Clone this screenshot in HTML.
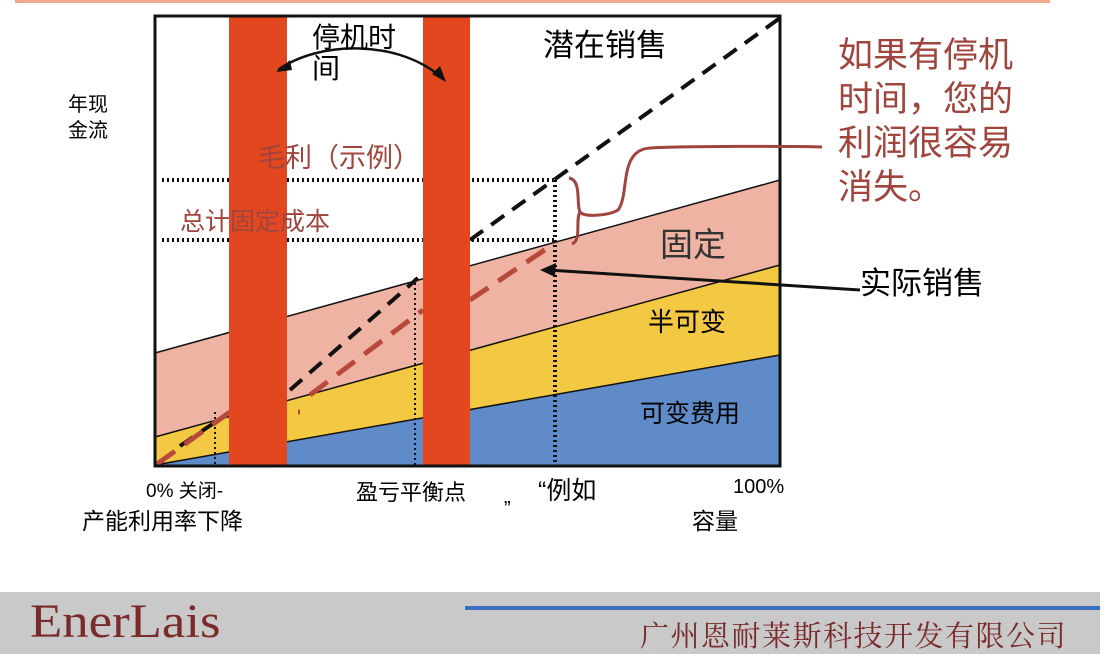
<!DOCTYPE html>
<html><head><meta charset="utf-8"><style>
body{margin:0;width:1107px;height:659px;background:#fff;overflow:hidden;position:relative;font-family:"Liberation Sans","Noto Sans CJK SC",sans-serif}
.t{position:absolute;white-space:nowrap}
</style></head><body>
<svg width="1107" height="659" style="position:absolute;left:0;top:0">
<rect x="15" y="0" width="1035" height="3" fill="#f0a890"/>
<rect x="155" y="16" width="625" height="450" fill="#fff"/>
<polygon points="155,353 780,180 780,265 155,437" fill="#efb3a3"/>
<polygon points="155,437 780,265 780,355 155,465" fill="#f3c843"/>
<polygon points="155,465 780,355 780,466 155,466" fill="#5f8bc8"/>
<g stroke="#111" stroke-width="1.5">
<line x1="155" y1="353" x2="780" y2="180"/>
<line x1="155" y1="437" x2="780" y2="265"/>
<line x1="155" y1="465" x2="780" y2="355"/>
</g>
<g stroke="#111" stroke-width="4" stroke-dasharray="2,3">
<line x1="162" y1="180" x2="555" y2="180"/>
<line x1="162" y1="240" x2="555" y2="240"/>
<line x1="555" y1="180" x2="555" y2="466"/>
</g>
<g stroke="#111" stroke-width="2" stroke-dasharray="2,3">
<line x1="415" y1="278" x2="415" y2="466"/>
<line x1="215" y1="412" x2="215" y2="466"/>
</g>
<g stroke="#111" stroke-width="4" stroke-dasharray="16,10" fill="none">
<polyline points="180,446 230,412"/>
<line x1="290" y1="390" x2="418" y2="278"/>
<line x1="470" y1="240" x2="780" y2="18"/>
</g>
<g stroke="#b84a3c" stroke-width="5" stroke-dasharray="22,12" fill="none">
<line x1="157" y1="464" x2="230" y2="412"/>
<line x1="230" y1="412" x2="300" y2="412"/>
<line x1="310" y1="395" x2="423" y2="310"/>
<line x1="423" y1="310" x2="470" y2="310"/>
<line x1="470" y1="300" x2="552" y2="245"/>
</g>
<rect x="229" y="16" width="58" height="450" fill="#e2471f"/>
<rect x="423" y="16" width="47" height="450" fill="#e2471f"/>
<rect x="155" y="16" width="625" height="450" fill="none" stroke="#111" stroke-width="3"/>
<path d="M569,178 C582,180 576,205 580,212 C585,218 610,215 618,210 C630,195 618,150 650,148 C680,146 800,146 822,147" stroke="#a0443e" stroke-width="3" fill="none"/>
<path d="M580,212 C575,220 582,240 572,244" stroke="#a0443e" stroke-width="3" fill="none"/>
<line x1="860" y1="290" x2="548" y2="270" stroke="#111" stroke-width="3"/>
<polygon points="540,270 556,263 555,277" fill="#111"/>
<path d="M278,70 C320,40 400,40 442,78" stroke="#111" stroke-width="2.5" fill="none"/>
<polygon points="276,72 290,60 292,70" fill="#111"/>
<polygon points="446,82 432,74 440,66" fill="#111"/>
<rect x="0" y="592" width="1100" height="62" fill="#c9c9c9"/>
<rect x="465" y="606" width="635" height="4" fill="#3b6fc0"/>
</svg>
<div class="t" style="left:312px;top:22px;font-size:28px;line-height:31px">停机时<br>间</div>
<div class="t" style="left:543px;top:20px;font-size:31px">潜在销售</div>
<div class="t" style="left:68px;top:92px;font-size:20px;line-height:26px">年现<br>金流</div>
<div class="t" style="left:258px;top:136px;font-size:27px;color:#a0443e">毛利（示例）</div>
<div class="t" style="left:180px;top:202px;font-size:25px;color:#a0443e">总计固定成本</div>
<div class="t" style="left:660px;top:218px;font-size:33px;color:#333">固定</div>
<div class="t" style="left:648px;top:302px;font-size:26px">半可变</div>
<div class="t" style="left:640px;top:394px;font-size:25px">可变费用</div>
<div class="t" style="left:838px;top:34px;font-size:35px;line-height:44px;color:#a0443e">如果有停机<br>时间，您的<br>利润很容易<br>消失。</div>
<div class="t" style="left:860px;top:258px;font-size:31px">实际销售</div>
<div class="t" style="left:146px;top:476px;font-size:19px">0% 关闭-</div>
<div class="t" style="left:82px;top:502px;font-size:23px">产能利用率下降</div>
<div class="t" style="left:356px;top:475px;font-size:22px">盈亏平衡点</div>
<div class="t" style="left:538px;top:471px;font-size:25px">“例如</div>
<div class="t" style="left:504px;top:498px;font-size:20px">”</div>
<div class="t" style="left:733px;top:476px;font-size:20px">100%</div>
<div class="t" style="left:692px;top:502px;font-size:23px">容量</div>
<div class="t" style="left:30px;top:594px;font-size:48px;font-family:'Liberation Serif',serif;color:#7a2a2a;transform:scaleX(1.1);transform-origin:left">EnerLais</div>
<div class="t" style="left:640px;top:614px;font-size:29px;letter-spacing:1.5px;font-family:'Liberation Serif','Noto Serif CJK SC',serif;color:#7a2a2a">广州恩耐莱斯科技开发有限公司</div>
</body></html>
